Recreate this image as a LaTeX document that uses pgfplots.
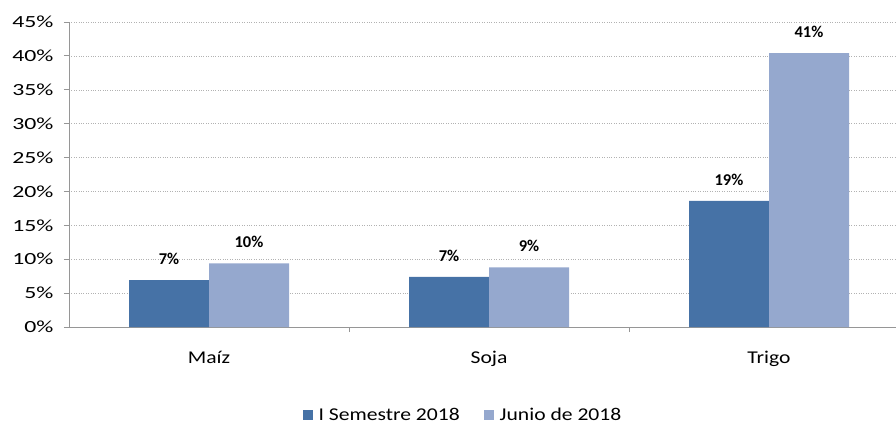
\documentclass[border=0pt]{standalone}
\usepackage{fontspec}
\setmainfont{Carlito}
\newfontfamily\stretchfont{Carlito}[FakeStretch=1.2]
\newfontfamily\tickfont{Carlito}[FakeStretch=1.4]
\usepackage{pgfplots}
\pgfplotsset{compat=1.18}
\definecolor{dark}{RGB}{70,114,166}
\definecolor{light}{RGB}{149,168,206}
\definecolor{axgray}{RGB}{150,150,150}
\begin{document}
\begin{tikzpicture}[x=1pt,y=1pt]
\useasboundingbox (0,0) rectangle (896,426);
\begin{axis}[
  at={(69pt,99pt)}, anchor=south west,
  scale only axis, width=827pt, height=305pt,
  xmin=-0.5, xmax=2.4536, ymin=0, ymax=45,
  axis x line*=bottom, axis y line*=left,
  axis line style={axgray, line width=0.8pt},
  xtick={0,1,2}, xticklabels={Maíz,Soja,Trigo},
  major x tick style={draw=none},
  minor xtick={0.5,1.5},
  minor x tick style={axgray, line width=0.8pt},
  tick align=outside,
  major tick length=5pt, minor tick length=5pt,
  y tick style={axgray, line width=0.8pt},
  ytick={0,5,...,45},
  yticklabel={\pgfmathprintnumber{\tick}\%},
  /pgf/number format/assume math mode=true,
  yticklabel style={font=\fontsize{17}{17}\selectfont\tickfont, xshift=-7pt},
  xticklabel style={font=\fontsize{18}{18}\selectfont\stretchfont, yshift=-16pt},
  ymajorgrids,
  grid style={dotted, gray!60, line width=0.5pt},
  ybar=0pt,
  point meta=explicit symbolic,
  nodes near coords,
  nodes near coords style={font=\fontsize{16.5}{16.5}\selectfont\bfseries, yshift=12pt},
  legend columns=2,
  legend style={at={(rel axis cs:0.4764,-0.2885)}, anchor=center, draw=none, fill=none,
    font=\fontsize{18}{18}\selectfont\stretchfont,
    /tikz/every odd column/.append style={column sep=4pt},
    /tikz/every even column/.append style={column sep=22pt}},
  legend image code/.code={\fill[#1] (0pt,-5pt) rectangle (10pt,5pt);},
]
\addplot[fill=dark, draw=none, bar width=0.2857, bar shift=-0.14286]
  coordinates {(0,6.9) [7\%] (1,7.4) [7\%] (2,18.6) [19\%]};
\addlegendentry{I Semestre 2018}
\addplot[fill=light, draw=none, bar width=0.2857, bar shift=0.14286]
  coordinates {(0,9.4) [10\%] (1,8.8) [9\%] (2,40.4) [41\%]};
\addlegendentry{Junio de 2018}
\end{axis}
\end{tikzpicture}
\end{document}
